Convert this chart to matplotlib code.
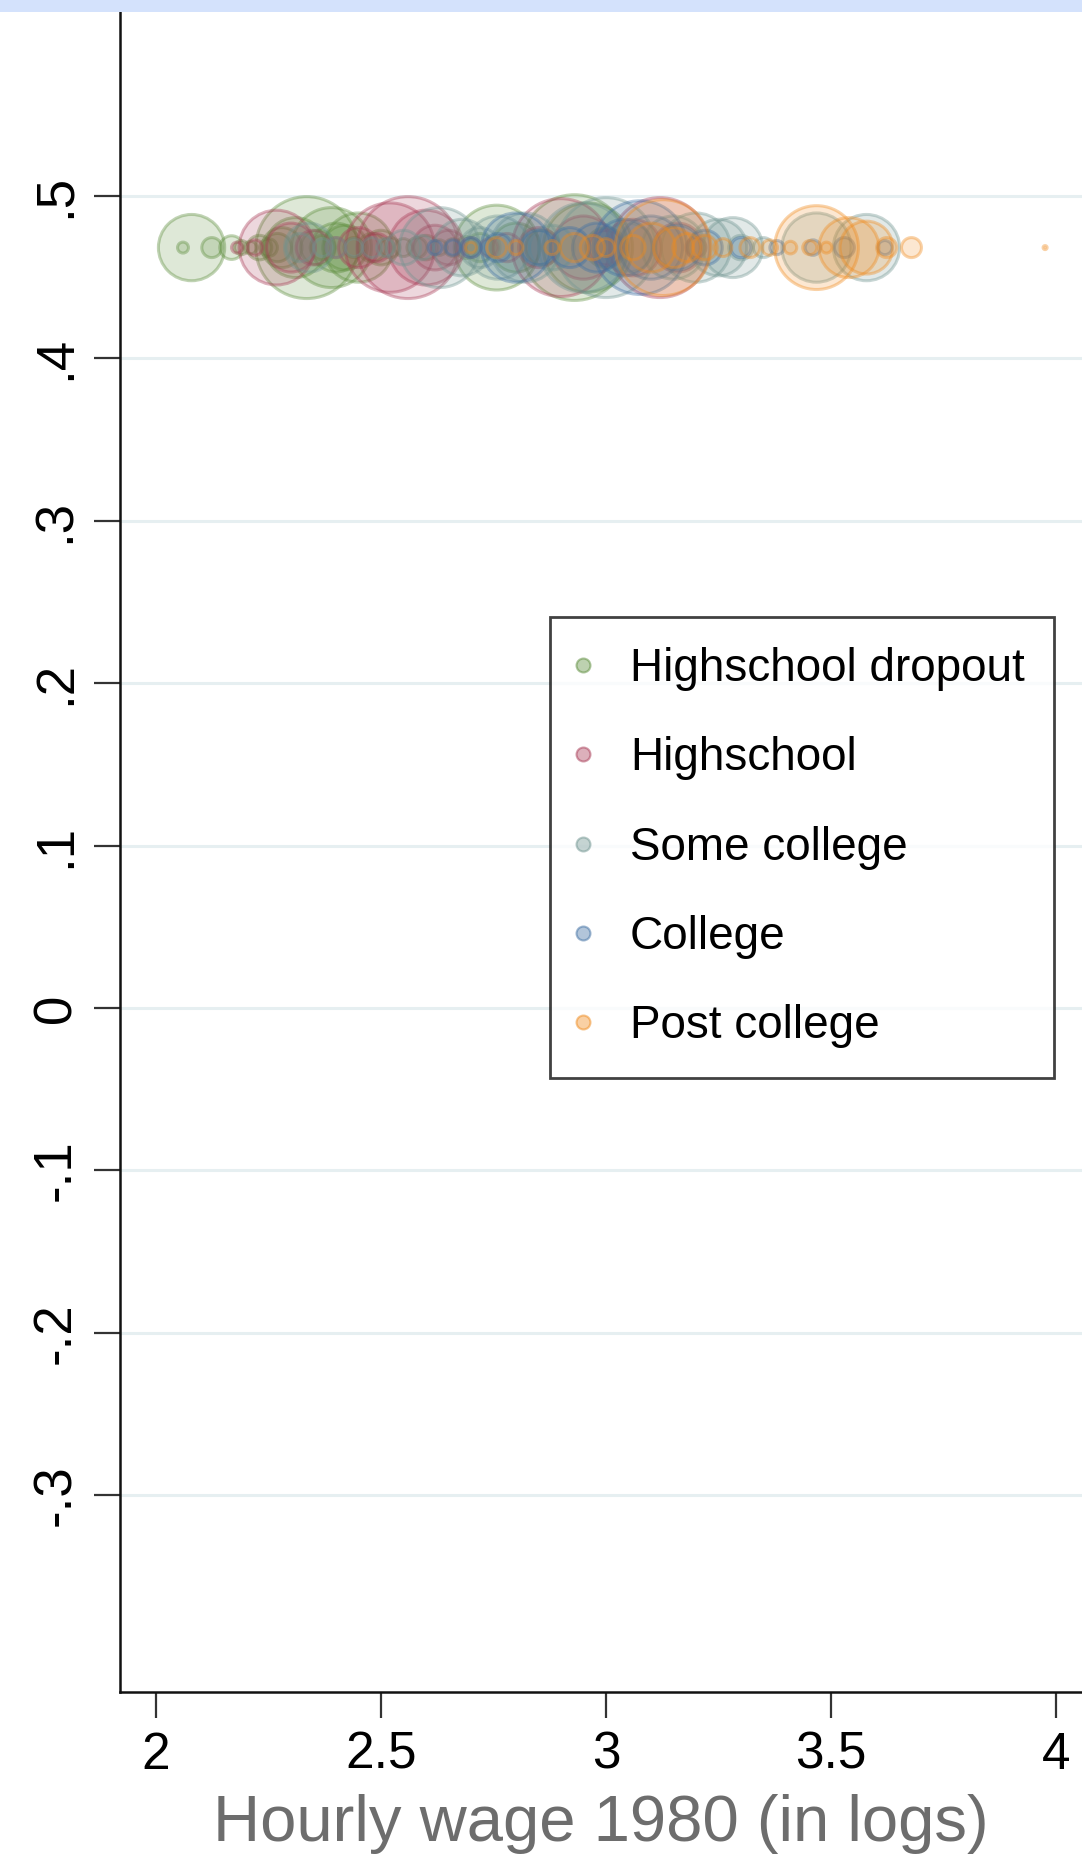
import numpy as np
import matplotlib
matplotlib.use("Agg")
import matplotlib.pyplot as plt
from matplotlib.lines import Line2D
from matplotlib.patches import Rectangle

# log hourly wage 1980 and cell weight, by education group
series_names = ["Highschool dropout", "Highschool", "Some college", "College", "Post college"]

dropout_x = [2.06, 2.079, 2.124, 2.168, 2.19, 2.21, 2.23, 2.25, 2.27, 2.28, 2.31, 2.335,
             2.36, 2.37, 2.39, 2.40, 2.42, 2.44, 2.45, 2.48, 2.50, 2.52, 2.55, 2.58,
             2.60, 2.63, 2.66, 2.69, 2.72, 2.757, 2.80, 2.86, 2.93, 2.96, 3.00]
dropout_w = [0.3, 11, 1.0, 1.4, 0.5, 0.4, 1.5, 0.8, 2, 4, 9, 26,
             3, 1.5, 16, 6, 5, 1, 12, 2, 3, 1, 0.8, 1,
             1.5, 0.6, 0.8, 1.2, 2, 18, 6, 3, 28, 20, 4]

hs_x = [2.18, 2.22, 2.268, 2.30, 2.35, 2.40, 2.45, 2.49, 2.52, 2.56, 2.60, 2.62,
        2.65, 2.70, 2.74, 2.78, 2.85, 2.90, 2.95, 3.00, 3.06, 3.12, 3.16, 3.20]
hs_w = [0.3, 0.6, 14, 6, 3, 1, 4, 2, 20, 26, 14, 5,
        3, 1, 0.8, 2, 4, 24, 10, 3, 8, 25, 6, 1]

somecol_x = [2.32, 2.34, 2.37, 2.40, 2.44, 2.48, 2.51, 2.55, 2.59, 2.63, 2.68, 2.72,
             2.76, 2.82, 2.88, 2.95, 3.00, 3.05, 3.15, 3.20, 3.25, 3.282, 3.30, 3.35,
             3.468, 3.579]
somecol_w = [2, 6, 0.8, 1, 0.8, 1, 0.8, 3, 1.5, 16, 8, 4,
             10, 12, 5, 20, 25, 6, 10, 12, 8, 9, 1.5, 1,
             12, 11]

college_x = [2.62, 2.66, 2.70, 2.76, 2.80, 2.85, 2.92, 2.98, 3.04, 3.076, 3.10, 3.16,
             3.22, 3.30, 3.38, 3.46, 3.53, 3.62]
college_w = [0.5, 0.6, 1, 2, 12, 3, 4, 6, 8, 22, 10, 5,
             3, 1, 0.5, 0.6, 1, 0.5]

post_x = [2.70, 2.757, 2.80, 2.88, 2.93, 2.97, 3.00, 3.06, 3.10, 3.127, 3.15, 3.18,
          3.22, 3.26, 3.32, 3.364, 3.41, 3.453, 3.468, 3.49, 3.54, 3.579, 3.624, 3.679, 3.976]
post_w = [0.3, 1, 0.5, 0.5, 2, 1.5, 0.8, 1.5, 6, 23, 4, 2,
          1.5, 0.8, 1, 0.6, 0.4, 0.5, 17.6, 0.3, 9, 7, 1, 1, 0.04]

row_value = 0.468

yticks = [-0.3, -0.2, -0.1, 0, 0.1, 0.2, 0.3, 0.4, 0.5]
ytick_labels = ["-.3", "-.2", "-.1", "0", ".1", ".2", ".3", ".4", ".5"]
xticks = [2, 2.5, 3, 3.5, 4]
xtick_labels = ["2", "2.5", "3", "3.5", "4"]

colors = ["#5b8c3a", "#a83a55", "#6f9490", "#3f6fa3", "#f08a1c"]
size_scale = 207

plt.rcParams["font.family"] = ["Liberation Sans", "DejaVu Sans"]

fig = plt.figure(figsize=(10.82, 18.68), dpi=100)
fig.patches.append(Rectangle((0, 1 - 12 / 1868), 1, 12 / 1868, transform=fig.transFigure,
                             facecolor="#d4e2fc", edgecolor="none", zorder=0))
ax = fig.add_axes([120 / 1082, 176 / 1868, 1 - 120 / 1082, (1692 - 12) / 1868])

all_x = [dropout_x, hs_x, somecol_x, college_x, post_x]
all_w = [dropout_w, hs_w, somecol_w, college_w, post_w]

for xs, ws, c in zip(all_x, all_w, colors):
    ys = np.full(len(xs), row_value)
    ax.scatter(xs, ys, s=np.array(ws) * size_scale,
               facecolor=matplotlib.colors.to_rgba(c, 0.2),
               edgecolor=matplotlib.colors.to_rgba(c, 0.38),
               linewidth=2.2, zorder=3)

ax.set_xlim(1.92, 4.058)
ax.set_ylim(-0.421, 0.613)

ax.set_yticks(yticks)
ax.set_yticklabels(ytick_labels, rotation=90, va="center", ha="right")
ax.set_xticks(xticks)
ax.set_xticklabels(xtick_labels)
ax.tick_params(axis="both", length=19, width=1.6, color="#333333")
ax.tick_params(axis="y", labelsize=38, pad=9)
ax.tick_params(axis="x", labelsize=37, pad=9)

for y in yticks:
    ax.axhline(y, color="#e6eff1", linewidth=2.2, zorder=1)

for side in ["top", "right"]:
    ax.spines[side].set_visible(False)
for side in ["left", "bottom"]:
    ax.spines[side].set_linewidth(1.8)
    ax.spines[side].set_color("#111111")

ax.set_xlabel("Hourly wage 1980 (in logs)", fontsize=47, color="#6d6d6d", labelpad=10)

handles = [Line2D([], [], linestyle="none", marker="o", markersize=10,
                  markerfacecolor=matplotlib.colors.to_rgba(c, 0.4),
                  markeredgecolor=matplotlib.colors.to_rgba(c, 0.5), markeredgewidth=1.5)
           for c in colors]
leg = fig.legend(handles, series_names, loc="upper left",
                 bbox_to_anchor=(550 / 1082, 1 - 617 / 1868), bbox_transform=fig.transFigure,
                 fontsize=33, frameon=True, fancybox=False, borderpad=0.65,
                 labelspacing=0.99, handlelength=0.15, handletextpad=0.94, borderaxespad=0)
leg.get_frame().set_edgecolor("#111111")
leg.get_frame().set_linewidth(2)

fig.savefig("out.png", dpi=100)
